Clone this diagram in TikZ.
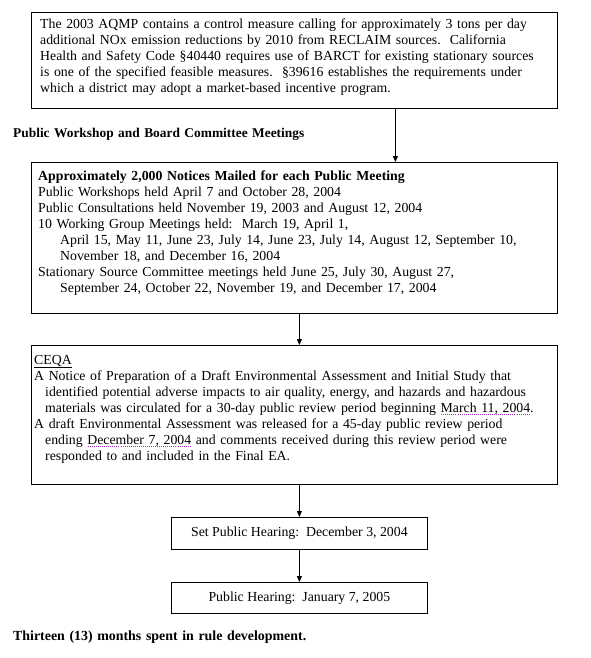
\documentclass[tikz,border=0pt]{standalone}
\usepackage{fontspec}
\setmainfont{Liberation Serif}
\usetikzlibrary{arrows.meta}
\definecolor{tagpurple}{RGB}{170,40,200}
% dotted marker under a date
\newcommand\tagdots[1]{\setbox0\hbox{#1}\rlap{\color{tagpurple}\raisebox{-3pt}{\hbox to\wd0{\xleaders\hbox to 2pt{\hss\vrule width .9pt height .9pt\hss}\hfill}}}#1}
\newcommand\hang[1]{\hspace*{#1}}

\begin{document}
\begin{tikzpicture}[x = 1pt, y = 1pt,
  font = \fontsize{13.8}{16}\selectfont,
  flowbox/.style = {draw, line width = 0.8pt, anchor = north west, inner sep = 0pt},
  flowtext/.style = {anchor = base west, inner sep = 0pt, text width = 520pt, align = left},
  flowarrow/.style = {line width = 0.8pt, -{Triangle[width = 5pt, length = 6pt]}}]
\useasboundingbox (0, 0) rectangle (591, -658);

\node[flowbox, minimum width = 526pt, minimum height = 96pt] (aqmp) at (31, -12) {};
\node[flowtext] (aqmptext) at (40, -29) {The 2003 AQMP contains a control measure calling for approximately 3 tons per day\\
additional NOx emission reductions by 2010 from RECLAIM sources.\ \ California\\
Health and Safety Code §40440 requires use of BARCT for existing stationary sources\\
is one of the specified feasible measures.\ \ §39616 establishes the requirements under\\
which a district may adopt a market-based incentive program.};

\node[flowtext, font = \fontsize{13.4}{16}\selectfont\bfseries] (workshop) at (13, -137) {Public Workshop and Board Committee Meetings};

\node[flowbox, minimum width = 526pt, minimum height = 151pt] (mail) at (31, -162) {};
\node[flowtext] (mailtext) at (38, -180) {\textbf{Approximately 2,000 Notices Mailed for each Public Meeting}\\
Public Workshops held April 7 and October 28, 2004\\
Public Consultations held November 19, 2003 and August 12, 2004\\
10 Working Group Meetings held:\ \ March 19, April 1,\\
\hang{22pt}April 15, May 11, June 23, July 14, June 23, July 14, August 12, September 10,\\
\hang{22pt}November 18, and December 16, 2004\\
Stationary Source Committee meetings held June 25, July 30, August 27,\\
\hang{22pt}September 24, October 22, November 19, and December 17, 2004};

\node[flowbox, minimum width = 526pt, minimum height = 139pt] (ceqa) at (31, -345) {};
\node[flowtext] (ceqatext) at (34, -364) {\underline{CEQA}\\
A Notice of Preparation of a Draft Environmental Assessment and Initial Study that\\
\hang{11pt}identified potential adverse impacts to air quality, energy, and hazards and hazardous\\
\hang{11pt}materials was circulated for a 30-day public review period beginning \tagdots{March 11, 2004}.\\
A draft Environmental Assessment was released for a 45-day public review period\\
\hang{11pt}ending \tagdots{December 7, 2004} and comments received during this review period were\\
\hang{11pt}responded to and included in the Final EA.};

\node[flowbox, minimum width = 256pt, minimum height = 32pt] (sethearing) at (171, -517) {Set Public Hearing:\ \ December 3, 2004};
\node[flowbox, minimum width = 256pt, minimum height = 31pt] (hearing) at (171, -582) {Public Hearing:\ \ January 7, 2005};

\node[flowtext, font = \fontsize{13.9}{16}\selectfont\bfseries] (months) at (13, -640) {Thirteen (13) months spent in rule development.};

\draw[flowarrow] ([xshift = 101pt]aqmp.south) -- ([xshift = 101pt]aqmp.south |- mail.north);
\draw[flowarrow] (mail.south -| sethearing.north) -- (ceqa.north -| sethearing.north);
\draw[flowarrow] (ceqa.south -| sethearing.north) -- (sethearing.north);
\draw[flowarrow] (sethearing.south) -- (hearing.north);

\end{tikzpicture}
\end{document}
